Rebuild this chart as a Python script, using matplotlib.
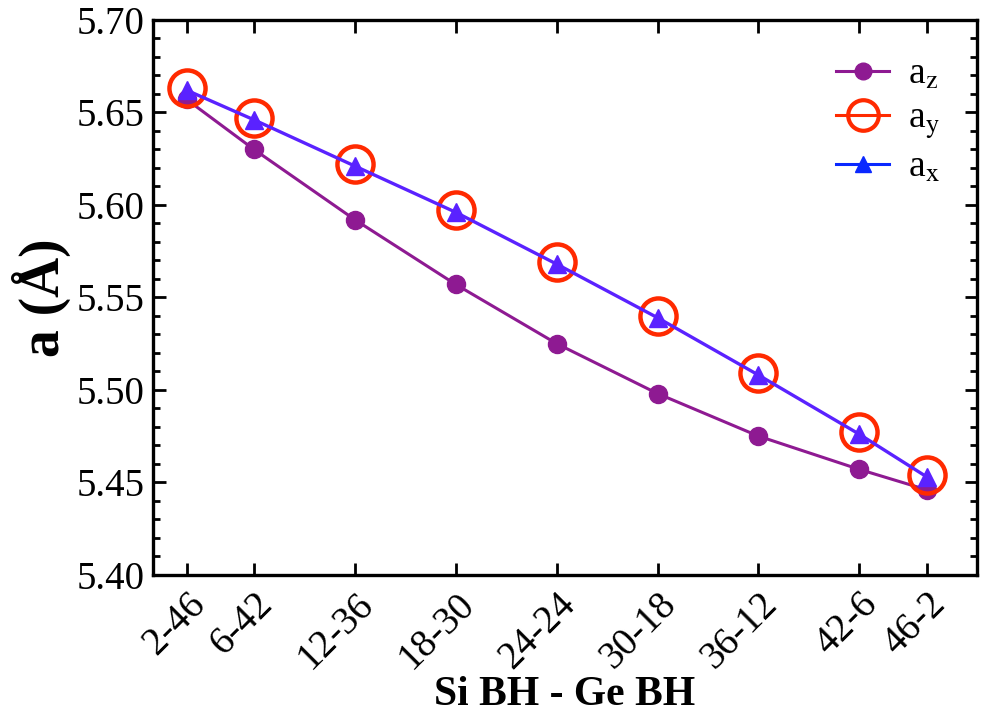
import matplotlib
matplotlib.use("Agg")
import matplotlib.pyplot as plt
from matplotlib.lines import Line2D
from matplotlib.ticker import MultipleLocator, FormatStrFormatter

plt.rcParams['font.family'] = ['Liberation Serif', 'DejaVu Serif']
plt.rcParams['mathtext.fontset'] = 'stix'

# Si count in the supercell, and the matching Si-Ge labels
si_bh = [2, 6, 12, 18, 24, 30, 36, 42, 46]
labels = ['2-46', '6-42', '12-36', '18-30', '24-24', '30-18', '36-12', '42-6', '46-2']

# lattice parameters (Angstrom)
a_z = [5.657, 5.630, 5.592, 5.557, 5.525, 5.498, 5.475, 5.457, 5.446]
a_y = [5.663, 5.647, 5.622, 5.597, 5.569, 5.540, 5.509, 5.477, 5.454]
a_x = [5.662, 5.646, 5.621, 5.596, 5.568, 5.539, 5.508, 5.476, 5.453]

purple = '#8e1a92'
red = '#ff2a00'
violet = '#5a22ff'

fig = plt.figure(figsize=(9.84, 7.24), dpi=100)
ax = fig.add_axes([0.1555, 0.206, 0.8375, 0.7665])

ax.plot(si_bh, a_z, '-o', color=purple, lw=2.2, ms=13, zorder=2)
ax.plot(si_bh, a_y, 'o', mfc='none', mec=red, mew=3.2, ms=26, zorder=3)
ax.plot(si_bh, a_x, '-^', color=violet, lw=2.4, ms=13, zorder=4)

ax.set_xlim(0, 49)
ax.set_ylim(5.40, 5.70)
ax.set_xticks(si_bh)
ax.set_xticklabels(labels, rotation=45, ha='right', rotation_mode='anchor')
ax.yaxis.set_major_locator(MultipleLocator(0.05))
ax.yaxis.set_minor_locator(MultipleLocator(0.01))
ax.yaxis.set_major_formatter(FormatStrFormatter('%.2f'))

ax.tick_params(which='both', direction='in', top=True, right=True, width=2)
ax.tick_params(which='major', length=9, labelsize=28)
ax.tick_params(axis='x', pad=8)
ax.tick_params(axis='y', pad=6)
ax.tick_params(which='minor', length=5)
for s in ax.spines.values():
    s.set_linewidth(2.4)

ax.set_xlabel('Si BH - Ge BH', fontsize=30, fontweight='bold', labelpad=0)
ax.set_ylabel('a (Å)', fontsize=40, fontweight='bold', labelpad=4)

handles = [
    Line2D([], [], color=purple, marker='o', lw=2.2, ms=12),
    Line2D([], [], color=red, marker='o', mfc='none', mew=3, lw=2.2, ms=22),
    Line2D([], [], color='#0a28ff', marker='^', lw=2.2, ms=12),
]
ax.legend(handles, [r'a$_{\rm z}$', r'a$_{\rm y}$', r'a$_{\rm x}$'],
          loc='upper right', frameon=False, fontsize=27, handlelength=1.4,
          handletextpad=0.5, labelspacing=0.25, borderaxespad=0.6)

fig.savefig('out.png', dpi=100)
